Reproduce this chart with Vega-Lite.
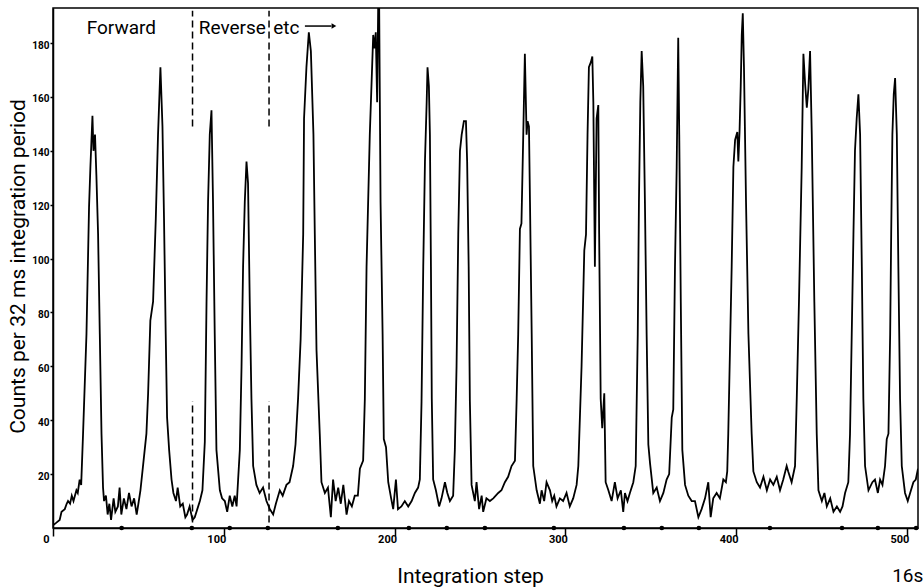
{
  "$schema": "https://vega.github.io/schema/vega-lite/v6.json",
  "width": 865,
  "height": 520,
  "autosize": "none",
  "padding": {"left": 53, "top": 8, "right": 5, "bottom": 60},
  "background": "white",
  "config": {
    "view": {"stroke": "black", "strokeWidth": 1.5},
    "font": "Roboto",
    "axis": {"grid": false, "domainColor": "black", "domainWidth": 1.5, "tickColor": "black", "tickWidth": 1.5, "labelColor": "black", "titleColor": "black"}
  },
  "datasets": {
    "trace": [
      {"step":0,"counts":1},{"step":2,"counts":2},{"step":3.9,"counts":3},{"step":5,"counts":6},{"step":6.9,"counts":7},{"step":8,"counts":9},{"step":8.8,"counts":10},{"step":10,"counts":9},{"step":11,"counts":12},{"step":12,"counts":10},{"step":13.7,"counts":14},{"step":14.5,"counts":13},{"step":15.6,"counts":18},{"step":16.5,"counts":16},
      {"step":17.6,"counts":35},{"step":19.6,"counts":72},{"step":21.1,"counts":119},{"step":21.9,"counts":134},{"step":23.1,"counts":153},{"step":23.7,"counts":140},{"step":24.6,"counts":146},{"step":25.4,"counts":131},{"step":26.4,"counts":109},{"step":27.4,"counts":72},{"step":28.4,"counts":35},{"step":29.3,"counts":15},
      {"step":29.9,"counts":10},{"step":31,"counts":12},{"step":32,"counts":5},{"step":33,"counts":9},{"step":34,"counts":3},{"step":35.5,"counts":11},{"step":36.5,"counts":6},{"step":38,"counts":8},{"step":39,"counts":15},{"step":40,"counts":5},{"step":41.5,"counts":11},{"step":43,"counts":7},{"step":44.5,"counts":13},{"step":46,"counts":8},{"step":47.5,"counts":11},{"step":49,"counts":5},{"step":50,"counts":9},{"step":51.2,"counts":14},
      {"step":52.7,"counts":23},{"step":54.7,"counts":35},{"step":55.7,"counts":50},{"step":57,"counts":77},{"step":58.6,"counts":84},{"step":60.2,"counts":115},{"step":61.5,"counts":146},{"step":62.9,"counts":171},{"step":64.1,"counts":149},{"step":65,"counts":115},{"step":66,"counts":72},{"step":66.8,"counts":41},{"step":68,"counts":29},{"step":69.4,"counts":18},
      {"step":70.5,"counts":13},{"step":72,"counts":10},{"step":73,"counts":15},{"step":74.5,"counts":8},{"step":76,"counts":9},{"step":77.5,"counts":4},{"step":78.5,"counts":5},{"step":80,"counts":8},{"step":81.7,"counts":3},{"step":83,"counts":4},{"step":84.5,"counts":7},{"step":86,"counts":10},{"step":87.5,"counts":14},
      {"step":88.9,"counts":32},{"step":89.9,"counts":84},{"step":90.8,"counts":121},{"step":91.8,"counts":146},{"step":92.8,"counts":155},{"step":93.7,"counts":121},{"step":94.7,"counts":72},{"step":95.7,"counts":29},{"step":97.7,"counts":14},{"step":99,"counts":11},{"step":100.6,"counts":10},{"step":102,"counts":6},{"step":103.5,"counts":12},{"step":105,"counts":8},{"step":106.4,"counts":12},{"step":107.5,"counts":8},{"step":108.4,"counts":18},
      {"step":109.4,"counts":29},{"step":110.4,"counts":60},{"step":111.3,"counts":97},{"step":112.3,"counts":121},{"step":113.3,"counts":136},{"step":114.2,"counts":128},{"step":115.2,"counts":84},{"step":116.2,"counts":48},{"step":117.2,"counts":23},{"step":119.1,"counts":16},{"step":121,"counts":13},{"step":123,"counts":15},{"step":125,"counts":10},{"step":127,"counts":7},{"step":128.9,"counts":5},{"step":130.5,"counts":9},{"step":132.8,"counts":14},{"step":134.5,"counts":12},{"step":136.7,"counts":16},{"step":138.5,"counts":17},{"step":140.6,"counts":23},{"step":142,"counts":31},
      {"step":143.5,"counts":48},{"step":145,"counts":70},{"step":146.5,"counts":109},{"step":147,"counts":152},{"step":148.4,"counts":171},{"step":149.8,"counts":184},{"step":151,"counts":177},{"step":152.5,"counts":146},{"step":153.3,"counts":109},{"step":154.3,"counts":66},{"step":156.2,"counts":35},{"step":157.2,"counts":17},
      {"step":159.2,"counts":13},{"step":161,"counts":15},{"step":162.7,"counts":4},{"step":164,"counts":18},{"step":165.5,"counts":10},{"step":167,"counts":15},{"step":168.5,"counts":9},{"step":170,"counts":16},{"step":171.9,"counts":5},{"step":173.3,"counts":10},{"step":175,"counts":8},{"step":176.7,"counts":12},{"step":178.5,"counts":12},{"step":179.7,"counts":22},{"step":181.6,"counts":25},
      {"step":182.6,"counts":48},{"step":183.6,"counts":97},{"step":185.5,"counts":146},{"step":187.5,"counts":183},{"step":188.3,"counts":178},{"step":189,"counts":184},{"step":189.8,"counts":158},{"step":190.4,"counts":193},{"step":191,"counts":193},{"step":191.8,"counts":121},{"step":193,"counts":72},{"step":193.7,"counts":33},{"step":195,"counts":30},{"step":196.3,"counts":17},
      {"step":198,"counts":11},{"step":199.2,"counts":7},{"step":200.8,"counts":18},{"step":202,"counts":7},{"step":204,"counts":8},{"step":206,"counts":10},{"step":208,"counts":8},{"step":210,"counts":10},{"step":211.9,"counts":13},{"step":213.8,"counts":15},{"step":214.8,"counts":18},
      {"step":215.8,"counts":47},{"step":216.8,"counts":97},{"step":217.8,"counts":136},{"step":218.8,"counts":158},{"step":219.3,"counts":171},{"step":220.1,"counts":164},{"step":220.7,"counts":146},{"step":221.3,"counts":97},{"step":221.8,"counts":48},{"step":222.6,"counts":18},
      {"step":224.2,"counts":14},{"step":226.1,"counts":8},{"step":227.5,"counts":11},{"step":229.5,"counts":17},{"step":230.9,"counts":13},{"step":232.4,"counts":10},{"step":234.3,"counts":12},
      {"step":235.3,"counts":29},{"step":236.3,"counts":60},{"step":237.3,"counts":109},{"step":238.3,"counts":140},{"step":239.3,"counts":146},{"step":240.6,"counts":151},{"step":241.8,"counts":151},{"step":242.5,"counts":136},{"step":243.4,"counts":97},{"step":244.1,"counts":47},{"step":245.1,"counts":16},
      {"step":247,"counts":10},{"step":248,"counts":17},{"step":249.5,"counts":7},{"step":251,"counts":12},{"step":251.9,"counts":6},{"step":253.8,"counts":11},{"step":255.8,"counts":10},{"step":257.8,"counts":11},{"step":260.7,"counts":13},{"step":262.6,"counts":14},{"step":264.6,"counts":17},{"step":266.5,"counts":19},{"step":268.5,"counts":23},{"step":270.5,"counts":25},
      {"step":271.5,"counts":48},{"step":272.4,"counts":72},{"step":273.4,"counts":111},{"step":274.3,"counts":113},{"step":275.3,"counts":144},{"step":276.3,"counts":176},{"step":277.3,"counts":146},{"step":277.9,"counts":151},{"step":278.7,"counts":149},{"step":279.3,"counts":121},{"step":280.3,"counts":72},{"step":281.2,"counts":23},
      {"step":283.2,"counts":14},{"step":285.1,"counts":9},{"step":286.1,"counts":14},{"step":287.6,"counts":10},{"step":289,"counts":17},{"step":291,"counts":14},{"step":292.3,"counts":10},{"step":293.5,"counts":12},{"step":294.8,"counts":8},{"step":296.8,"counts":11},{"step":298.7,"counts":10},{"step":300.7,"counts":13},{"step":302.6,"counts":8},{"step":304.6,"counts":11},{"step":306.6,"counts":16},{"step":307.6,"counts":23},
      {"step":309.5,"counts":60},{"step":311.1,"counts":103},{"step":312.1,"counts":109},{"step":313,"counts":146},{"step":313.8,"counts":171},{"step":315,"counts":173},{"step":315.8,"counts":175},{"step":316.4,"counts":158},{"step":317.3,"counts":97},{"step":318.3,"counts":152},{"step":319.3,"counts":157},{"step":319.8,"counts":109},{"step":320.7,"counts":48},{"step":321.6,"counts":37},{"step":322.8,"counts":50},{"step":323.6,"counts":17},
      {"step":325.2,"counts":14},{"step":327.1,"counts":10},{"step":329,"counts":17},{"step":330.6,"counts":11},{"step":332.5,"counts":14},{"step":333.9,"counts":6},{"step":334.9,"counts":13},{"step":336.4,"counts":10},{"step":337.8,"counts":13},{"step":339.8,"counts":17},{"step":341.2,"counts":23},
      {"step":342.4,"counts":72},{"step":343.1,"counts":121},{"step":343.9,"counts":158},{"step":344.7,"counts":177},{"step":345.6,"counts":164},{"step":346.6,"counts":121},{"step":347.6,"counts":72},{"step":348.6,"counts":31},{"step":349.6,"counts":24},
      {"step":351.5,"counts":13},{"step":353.5,"counts":15},{"step":355.4,"counts":10},{"step":357.4,"counts":13},{"step":359.3,"counts":18},{"step":360.8,"counts":20},{"step":362.3,"counts":41},{"step":363.2,"counts":44},
      {"step":364.2,"counts":97},{"step":365.2,"counts":134},{"step":366.1,"counts":182},{"step":366.7,"counts":146},{"step":367.6,"counts":84},{"step":368.5,"counts":29},{"step":370.1,"counts":16},
      {"step":372,"counts":12},{"step":374,"counts":10},{"step":375.9,"counts":10},{"step":377.9,"counts":4},{"step":379.8,"counts":7},{"step":381.8,"counts":11},{"step":383.7,"counts":17},{"step":385.1,"counts":4},{"step":386.6,"counts":11},{"step":388.6,"counts":13},{"step":390.5,"counts":11},{"step":392.5,"counts":18},{"step":394,"counts":17},{"step":394.8,"counts":21},
      {"step":395.4,"counts":35},{"step":396.4,"counts":66},{"step":397.4,"counts":97},{"step":398.4,"counts":134},{"step":399.4,"counts":144},{"step":400.7,"counts":147},{"step":401.3,"counts":136},{"step":402,"counts":147},{"step":402.7,"counts":164},{"step":403.3,"counts":183},{"step":403.9,"counts":191},{"step":404.6,"counts":171},{"step":405.8,"counts":121},{"step":407.2,"counts":72},{"step":409.1,"counts":35},{"step":410.1,"counts":21},
      {"step":412.1,"counts":17},{"step":414,"counts":15},{"step":416,"counts":19},{"step":418,"counts":14},{"step":419.9,"counts":18},{"step":421.8,"counts":16},{"step":423.8,"counts":19},{"step":425.7,"counts":14},{"step":427.6,"counts":18},{"step":429.6,"counts":23},{"step":430.5,"counts":21},{"step":432.5,"counts":17},{"step":434.5,"counts":23},
      {"step":435.5,"counts":48},{"step":436.8,"counts":84},{"step":438.4,"counts":134},{"step":439.4,"counts":176},{"step":440.4,"counts":165},{"step":441.4,"counts":156},{"step":442.3,"counts":163},{"step":443.3,"counts":177},{"step":444.3,"counts":146},{"step":445.8,"counts":84},{"step":447.2,"counts":35},{"step":448.2,"counts":14},
      {"step":450.2,"counts":10},{"step":451.7,"counts":13},{"step":453.1,"counts":8},{"step":455.1,"counts":11},{"step":457,"counts":6},{"step":459,"counts":8},{"step":460.9,"counts":6},{"step":462.3,"counts":8},{"step":463.8,"counts":13},{"step":465.7,"counts":17},
      {"step":466.7,"counts":35},{"step":467.7,"counts":72},{"step":468.7,"counts":109},{"step":469.6,"counts":140},{"step":470.6,"counts":152},{"step":471.6,"counts":161},{"step":472.6,"counts":146},{"step":473.6,"counts":97},{"step":474.5,"counts":48},{"step":475.5,"counts":23},
      {"step":477.5,"counts":14},{"step":479.8,"counts":17},{"step":481.3,"counts":18},{"step":483,"counts":13},{"step":484.3,"counts":18},{"step":485.7,"counts":16},{"step":487.2,"counts":23},{"step":488.2,"counts":33},{"step":489.2,"counts":35},
      {"step":490.2,"counts":72},{"step":490.8,"counts":109},{"step":491.5,"counts":146},{"step":492.3,"counts":161},{"step":493.1,"counts":167},{"step":494.1,"counts":146},{"step":495,"counts":97},{"step":496,"counts":48},{"step":497,"counts":23},
      {"step":498.9,"counts":13},{"step":500.5,"counts":10},{"step":501.9,"counts":13},{"step":503.8,"counts":17},{"step":505.2,"counts":18},{"step":506.5,"counts":22}
    ],
    "markers": [
      {"step":40.2,"counts":0},{"step":81.3,"counts":0},{"step":103.5,"counts":0},{"step":125.8,"counts":0},{"step":166.8,"counts":0},{"step":208.4,"counts":0},{"step":230.6,"counts":0},{"step":252.9,"counts":0},{"step":293.3,"counts":0},{"step":334.3,"counts":0},{"step":356.5,"counts":0},{"step":378.2,"counts":0},{"step":419.8,"counts":0},{"step":462,"counts":0},{"step":483,"counts":0},{"step":505.4,"counts":0}
    ],
    "dashes": [
      {"step":81.7,"counts":149,"top":192},{"step":81.7,"counts":2,"top":47},
      {"step":126.5,"counts":149,"top":192},{"step":126.5,"counts":2,"top":47}
    ],
    "labels": [
      {"step":40,"counts":183.3,"label":"Forward"},
      {"step":105,"counts":183.3,"label":"Reverse"},
      {"step":136.6,"counts":183.3,"label":"etc"}
    ],
    "arrow": [{"step":147.5,"end":163,"counts":186.3}],
    "arrowhead": [{"step":164.5,"counts":186.3}],
    "corner": [{"step":500.5,"counts":-20,"label":"16s"}]
  },
  "encoding": {
    "x": {
      "field": "step",
      "type": "quantitative",
      "scale": {"domain": [0, 506.5], "nice": false, "zero": false},
      "axis": {
        "values": [0, 100, 200, 300, 400, 500],
        "tickSize": 8,
        "labelFontSize": 11,
        "labelFontWeight": "bold",
        "labelAlign": "right",
        "labelOffset": {"condition": {"test": "datum.value === 0", "value": -4}, "value": 2},
        "labelPadding": -3,
        "title": "Integration step",
        "titleFontSize": 21,
        "titleFontWeight": "normal",
        "titleX": 417,
        "titleY": 54,
        "titleAlign": "center",
        "titleBaseline": "alphabetic"
      }
    },
    "y": {
      "field": "counts",
      "type": "quantitative",
      "scale": {"domain": [0, 193], "nice": false, "zero": false},
      "axis": {
        "values": [20, 40, 60, 80, 100, 120, 140, 160, 180],
        "tickSize": 3,
        "labelFontSize": 10,
        "labelFontWeight": "bold",
        "labelPadding": 1,
        "labelOffset": 2,
        "title": "Counts per 32 ms integration period",
        "titleFontSize": 21,
        "titleFontWeight": "normal",
        "titleAngle": -90,
        "titleX": -29,
        "titleY": 258,
        "titleAlign": "center",
        "titleBaseline": "alphabetic"
      }
    }
  },
  "layer": [
    {
      "data": {"name": "trace"},
      "mark": {"type": "line", "color": "black", "strokeWidth": 1.8, "clip": true, "strokeJoin": "miter"}
    },
    {
      "data": {"name": "dashes"},
      "mark": {"type": "rule", "color": "black", "strokeWidth": 1.5, "strokeDash": [7, 4]},
      "encoding": {"y2": {"field": "top"}}
    },
    {
      "data": {"name": "markers"},
      "mark": {"type": "point", "filled": true, "color": "black", "size": 22, "opacity": 1}
    },
    {
      "data": {"name": "labels"},
      "mark": {"type": "text", "fontSize": 19, "baseline": "alphabetic", "align": "center", "color": "black"},
      "encoding": {"text": {"field": "label"}}
    },
    {
      "data": {"name": "arrow"},
      "mark": {"type": "rule", "color": "black", "strokeWidth": 1.5},
      "encoding": {"x2": {"field": "end"}}
    },
    {
      "data": {"name": "arrowhead"},
      "mark": {"type": "point", "shape": "triangle-right", "filled": true, "color": "black", "size": 30, "opacity": 1}
    },
    {
      "data": {"name": "corner"},
      "mark": {"type": "text", "fontSize": 19, "baseline": "alphabetic", "align": "center", "color": "black"},
      "encoding": {"text": {"field": "label"}}
    }
  ]
}
